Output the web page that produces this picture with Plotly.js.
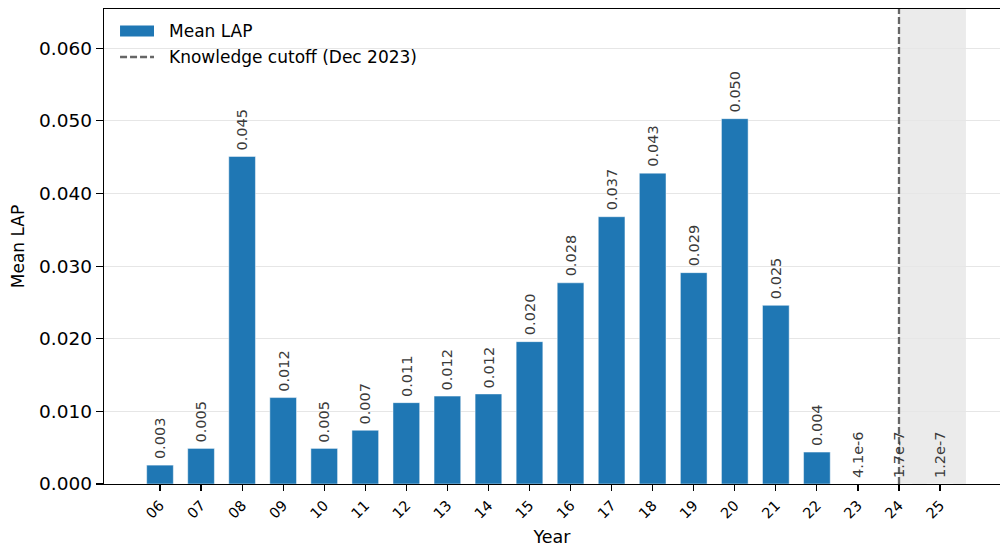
<!DOCTYPE html>
<html>
<head>
<meta charset="utf-8">
<script src="https://cdn.plot.ly/plotly-3.0.1.min.js"></script>
<style>
  html, body { margin: 0; padding: 0; background: #fff; }
  #chart { width: 1000px; height: 552px; }
</style>
</head>
<body>
<div id="chart"></div>
<script>
// Mean LAP per publication year (two-digit years)
const years = ['06','07','08','09','10','11','12','13','14','15',
               '16','17','18','19','20','21','22','23','24','25'];
const meanLAP = [0.0026, 0.0049, 0.0451, 0.0119, 0.0049, 0.0074, 0.0112, 0.0121, 0.0124, 0.0196,
                 0.0277, 0.0368, 0.0428, 0.0291, 0.0503, 0.0246, 0.0044, 4.1e-6, 1.7e-7, 1.2e-7];
const seriesName = 'Mean LAP';
const cutoffYear = '24';
const cutoffLabel = 'Knowledge cutoff (Dec 2023)';
const shadeEnd = 19.63;   // right edge of the post-cutoff band, in category-index units

const idx = years.map((_, i) => i);
const cutoffIdx = years.indexOf(cutoffYear);

function fmt(v) {
  return v >= 1e-3 ? v.toFixed(3) : v.toExponential(1);
}

const FONT = 'DejaVu Sans, sans-serif';
const BLUE = '#1f77b4';
const CUT_COLOR = '#666666';
const CUT_DASH = '7px,3px';

const bars = {
  type: 'bar',
  x: idx,
  y: meanLAP,
  width: 0.65,
  name: seriesName,
  marker: { color: BLUE, line: { color: 'rgba(255,255,255,0.8)', width: 0.6 } },
  showlegend: false,
  hoverinfo: 'x+y'
};

const cutoffLine = {
  type: 'scatter', mode: 'lines',
  x: [cutoffIdx, cutoffIdx], y: [0, 1],
  yaxis: 'y2',
  name: cutoffLabel,
  showlegend: false,
  line: { color: CUT_COLOR, width: 2.3, dash: CUT_DASH },
  hoverinfo: 'skip'
};

const valueLabels = meanLAP.map((v, i) => ({
  x: i, y: v, xref: 'x', yref: 'y',
  text: fmt(v),
  textangle: -90,
  showarrow: false,
  xanchor: 'center', yanchor: 'bottom',
  yshift: 4,
  font: { family: FONT, size: 14.5, color: '#3a3a3a' }
}));

// Legend box drawn in paper coordinates (top-left corner of the axes)
const KEY = { x0: 0.0179, x1: 0.0558, textX: 0.0703, row1: 0.9537, row2: 0.8989, half: 0.0116 };

const legendShapes = [
  { type: 'rect', xref: 'paper', yref: 'paper', layer: 'above',
    x0: KEY.x0, x1: KEY.x1, y0: KEY.row1 - KEY.half, y1: KEY.row1 + KEY.half,
    fillcolor: BLUE, line: { width: 0 } },
  { type: 'line', xref: 'paper', yref: 'paper', layer: 'above',
    x0: KEY.x0, x1: KEY.x1, y0: KEY.row2, y1: KEY.row2,
    line: { color: CUT_COLOR, width: 2.3, dash: CUT_DASH } }
];

const legendText = [
  { text: seriesName, y: KEY.row1 },
  { text: cutoffLabel, y: KEY.row2 }
].map(d => ({
  xref: 'paper', yref: 'paper', x: KEY.textX, y: d.y,
  xanchor: 'left', yanchor: 'middle', showarrow: false,
  text: d.text,
  font: { family: FONT, size: 17, color: '#000' }
}));

const layout = {
  width: 1000, height: 552,
  margin: { l: 104, r: 0, t: 9, b: 68 },
  paper_bgcolor: '#fff', plot_bgcolor: '#fff',
  font: { family: FONT, size: 17, color: '#000' },
  showlegend: false,
  bargap: 0,
  xaxis: {
    range: [-1.364, 20.46],
    tickmode: 'array', tickvals: idx, ticktext: years,
    tickangle: -45,
    tickfont: { size: 14.5 },
    ticks: 'outside', ticklen: 6, tickwidth: 1.2, tickcolor: '#000',
    showline: true, linecolor: '#000', linewidth: 1.3, mirror: true,
    showgrid: false, zeroline: false,
    title: { text: 'Year', font: { size: 17.5 }, standoff: 10 }
  },
  yaxis: {
    range: [0, 0.0654],
    tick0: 0, dtick: 0.01, tickformat: '.3f',
    tickfont: { size: 18.5 },
    ticks: 'outside', ticklen: 7, tickwidth: 1.2, tickcolor: '#000',
    showline: true, linecolor: '#000', linewidth: 1.3,
    showgrid: true, gridcolor: '#e6e6e6', gridwidth: 1,
    zeroline: false,
    title: { text: seriesName, font: { size: 17 }, standoff: 10 }
  },
  yaxis2: {
    range: [0, 1], overlaying: 'y', visible: false, fixedrange: true
  },
  shapes: [{
    type: 'rect', layer: 'below',
    xref: 'x', yref: 'paper',
    x0: cutoffIdx, x1: shadeEnd, y0: 0, y1: 1,
    fillcolor: '#ebebeb', line: { width: 0 }
  }].concat(legendShapes),
  annotations: valueLabels.concat(legendText)
};

Plotly.newPlot('chart', [bars, cutoffLine], layout, { displayModeBar: false, staticPlot: true });
</script>
</body>
</html>
